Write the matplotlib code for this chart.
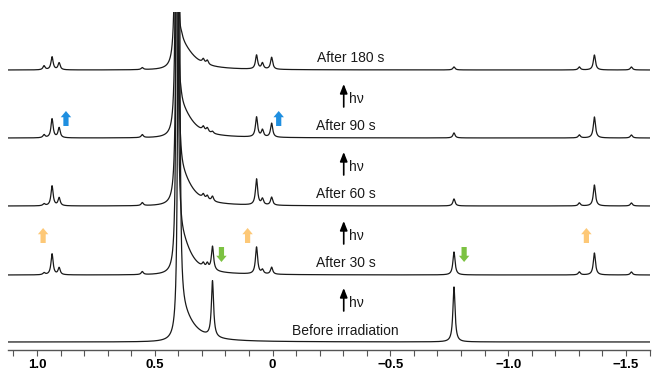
import numpy as np
import matplotlib
matplotlib.use("Agg")
import matplotlib.pyplot as plt

plt.rcParams['font.family'] = ['Liberation Sans', 'DejaVu Sans']

# ---------------- data ----------------
labels = ["Before irradiation", "After 30 s", "After 60 s", "After 90 s", "After 180 s"]
offsets = [8, 75, 144, 212, 280]

# minor peak positions (ppm)
peak_ppm = [0.97, 0.936, 0.906, 0.553, 0.294, 0.277, 0.255, 0.068, 0.043, 0.004,
            -0.770, -1.302, -1.366, -1.523]
# heights for each spectrum (same order as labels)
heights = [
    [0, 0, 0, 0, 0, 0, 56, 0, 0, 0, 55, 0, 0, 0],
    [2, 21, 7, 3, 4, 5, 24, 27, 4, 7, 23, 3, 22, 3],
    [2, 20, 8, 3, 4, 4, 5, 26, 6, 8, 7, 3, 21, 3],
    [3, 19, 10, 3, 4, 4, 2, 20, 7, 14, 5, 3, 21, 3],
    [4, 13, 7, 2, 4, 4, 0, 14, 6, 12, 3, 3, 15, 3],
]
peak_width = 0.0055

# main (solvent) peak, clipped at top
main_ppm = [0.398, 0.405, 0.405, 0.407, 0.408]
main_height = [800, 700, 700, 700, 700]
main_width = 0.0035
# asymmetric tail of the main peak
tail_ppm = [0.39, 0.39, 0.39, 0.388, 0.385]
tail_height = [30, 35, 30, 26, 22]
tail_width_right = [0.06, 0.05, 0.055, 0.058, 0.06]
tail_width_left = 0.009

tick_major = [1.0, 0.5, 0.0, -0.5, -1.0, -1.5]
tick_labels = ["1.0", "0.5", "0", "\u22120.5", "\u22121.0", "\u22121.5"]

# ---------------- plot ----------------
x = np.linspace(1.13, -1.61, 8000)


def lor(x, c, h, g):
    return h * g ** 2 / ((x - c) ** 2 + g ** 2)


def split_lor(x, c, h, gl, gr):
    g = np.where(x > c, gl, gr)
    return h * g ** 2 / ((x - c) ** 2 + g ** 2)


fig = plt.figure(figsize=(6.53, 3.70), dpi=100)
ax = fig.add_axes([8 / 653, 20 / 370, 642 / 653, 338 / 370])

for i in range(len(labels)):
    y = np.zeros_like(x)
    for c, h in zip(peak_ppm, heights[i]):
        if h:
            y += lor(x, c, h, peak_width)
    y += lor(x, main_ppm[i], main_height[i], main_width)
    y += split_lor(x, tail_ppm[i], tail_height[i], tail_width_left, tail_width_right[i])
    ax.plot(x, y + offsets[i], color="#1a1a1a", lw=0.9)
    ax.text(-0.31 if i < 4 else -0.332, offsets[i] + (11 if i == 0 else 12), labels[i],
            ha="center", va="center", fontsize=10, color="#1a1a1a")

# hv arrows
for base in offsets[:4]:
    ax.annotate("", xy=(-0.302, base + 54), xytext=(-0.302, base + 31),
                arrowprops=dict(arrowstyle="-|>,head_length=0.55,head_width=0.22",
                                lw=1.2, color="black", shrinkA=0, shrinkB=0))
    ax.text(-0.325, base + 39, "h\u03bd", ha="left", va="center", fontsize=10,
            color="#1a1a1a")


def fat_arrow(xp, y0, y1, color):
    ax.annotate("", xy=(xp, y1), xytext=(xp, y0),
                arrowprops=dict(arrowstyle="simple,head_length=0.6,head_width=1.0,tail_width=0.5",
                                color=color, lw=0, shrinkA=0, shrinkB=0, mutation_scale=7.5))


blue = "#1f8fe0"
orange = "#fdc877"
green = "#7cc242"
for xp in [0.877, -0.026]:
    fat_arrow(xp, offsets[3] + 12, offsets[3] + 27, blue)
for xp in [0.974, 0.106, -1.332]:
    fat_arrow(xp, offsets[1] + 32, offsets[1] + 47, orange)
for xp in [0.217, -0.813]:
    fat_arrow(xp, offsets[1] + 28, offsets[1] + 13, green)

ax.set_xlim(1.123, -1.602)
ax.set_ylim(0, 338)
for s in ["top", "left", "right"]:
    ax.spines[s].set_visible(False)
ax.spines["bottom"].set_color("#555555")
ax.spines["bottom"].set_linewidth(1.0)
ax.set_yticks([])
ax.set_xticks(tick_major)
ax.set_xticklabels(tick_labels, fontsize=9.5, fontweight="bold")
ax.set_xticks(np.round(np.arange(1.1, -1.61, -0.1), 2), minor=True)
ax.tick_params(axis="x", which="both", direction="out", length=4.5, width=0.8,
               color="#555555", pad=2)

fig.savefig("out.png", dpi=100)
